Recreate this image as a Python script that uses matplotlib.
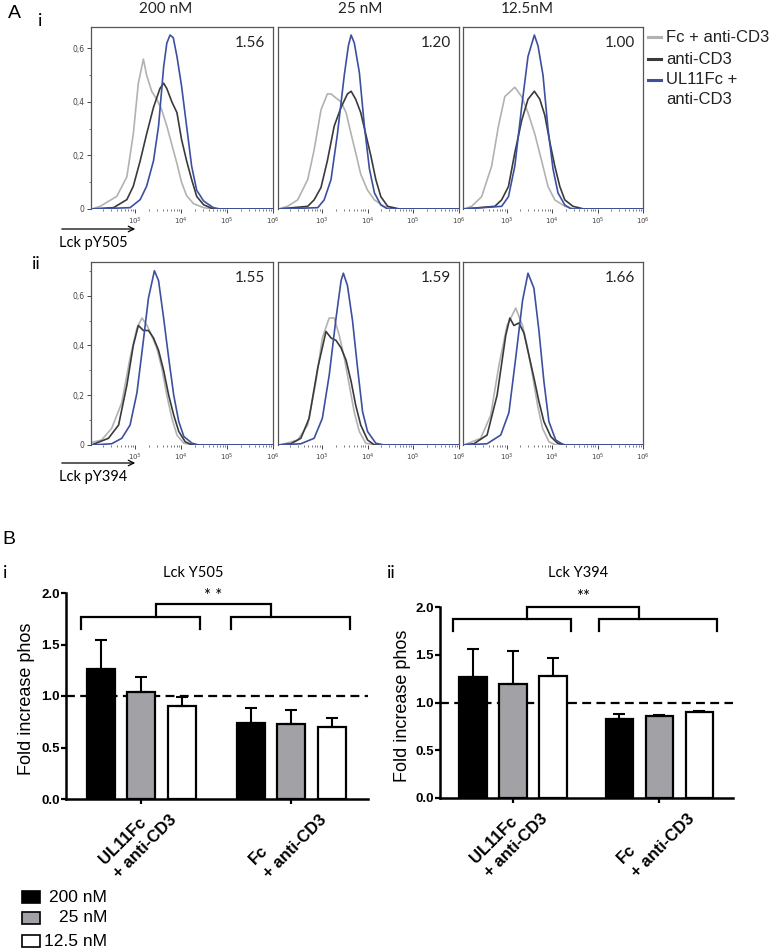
import matplotlib
matplotlib.use('Agg')
import matplotlib.pyplot as plt
from matplotlib.lines import Line2D
from matplotlib.patches import Rectangle, FancyArrowPatch
import matplotlib.transforms as mtransforms
import numpy as np

# ---------------- DATA ----------------
# Flow histograms: x = log10(fluorescence), y = normalised count
# Row i (Lck pY505)
i200_fc_x = [2.05, 2.24, 2.53, 2.60, 2.82, 2.96, 3.07, 3.18, 3.25, 3.36, 3.47, 3.58, 3.69, 3.80, 3.91, 4.01, 4.12, 4.27, 4.49, 4.70, 6.0]
i200_fc_y = [0.0, 0.01, 0.04, 0.047, 0.12, 0.28, 0.47, 0.56, 0.50, 0.44, 0.41, 0.37, 0.31, 0.24, 0.17, 0.10, 0.05, 0.02, 0.005, 0.0, 0.0]
i200_cd3_x = [2.05, 2.53, 2.82, 2.96, 3.11, 3.25, 3.40, 3.54, 3.62, 3.69, 3.80, 3.91, 4.01, 4.12, 4.23, 4.34, 4.49, 4.70, 6.0]
i200_cd3_y = [0.0, 0.005, 0.035, 0.085, 0.18, 0.28, 0.38, 0.45, 0.47, 0.45, 0.40, 0.36, 0.26, 0.18, 0.11, 0.047, 0.016, 0.0, 0.0]
i200_ul_x = [2.05, 2.89, 3.11, 3.25, 3.40, 3.51, 3.62, 3.69, 3.76, 3.83, 3.91, 4.01, 4.12, 4.23, 4.34, 4.49, 4.70, 4.85, 6.0]
i200_ul_y = [0.0, 0.005, 0.035, 0.085, 0.18, 0.31, 0.53, 0.62, 0.65, 0.64, 0.57, 0.46, 0.31, 0.16, 0.07, 0.03, 0.005, 0.0, 0.0]

i25_fc_x = [2.05, 2.25, 2.47, 2.69, 2.83, 2.98, 3.12, 3.20, 3.27, 3.42, 3.53, 3.64, 3.74, 3.85, 4.00, 4.15, 4.36, 4.60, 6.0]
i25_fc_y = [0.0, 0.01, 0.034, 0.11, 0.22, 0.37, 0.43, 0.43, 0.42, 0.40, 0.36, 0.28, 0.21, 0.13, 0.07, 0.034, 0.01, 0.0, 0.0]
i25_cd3_x = [2.05, 2.69, 2.83, 2.98, 3.12, 3.27, 3.42, 3.56, 3.64, 3.74, 3.85, 3.96, 4.07, 4.18, 4.29, 4.44, 4.70, 6.0]
i25_cd3_y = [0.0, 0.01, 0.034, 0.08, 0.18, 0.31, 0.38, 0.43, 0.44, 0.41, 0.36, 0.28, 0.20, 0.11, 0.046, 0.01, 0.0, 0.0]
i25_ul_x = [2.05, 2.91, 3.05, 3.20, 3.34, 3.49, 3.58, 3.64, 3.71, 3.82, 3.93, 4.04, 4.15, 4.29, 4.44, 6.0]
i25_ul_y = [0.0, 0.005, 0.034, 0.11, 0.28, 0.50, 0.61, 0.65, 0.62, 0.51, 0.31, 0.15, 0.06, 0.015, 0.0, 0.0]

i12_fc_x = [2.05, 2.23, 2.45, 2.67, 2.82, 2.96, 3.18, 3.33, 3.47, 3.62, 3.77, 3.91, 4.06, 4.28, 4.50, 6.0]
i12_fc_y = [0.0, 0.01, 0.046, 0.16, 0.31, 0.42, 0.455, 0.42, 0.36, 0.28, 0.18, 0.084, 0.034, 0.01, 0.0, 0.0]
i12_cd3_x = [2.05, 2.74, 2.89, 3.04, 3.18, 3.33, 3.47, 3.61, 3.73, 3.84, 3.95, 4.06, 4.17, 4.28, 4.46, 4.70, 6.0]
i12_cd3_y = [0.0, 0.01, 0.034, 0.084, 0.21, 0.33, 0.41, 0.44, 0.41, 0.35, 0.25, 0.16, 0.084, 0.034, 0.01, 0.0, 0.0]
i12_ul_x = [2.05, 2.89, 3.04, 3.18, 3.33, 3.47, 3.61, 3.69, 3.80, 3.91, 4.02, 4.13, 4.28, 4.42, 6.0]
i12_ul_y = [0.0, 0.01, 0.046, 0.16, 0.38, 0.57, 0.65, 0.61, 0.50, 0.30, 0.15, 0.06, 0.015, 0.0, 0.0]

# Row ii (Lck pY394)
ii200_fc_x = [2.05, 2.27, 2.49, 2.71, 2.89, 3.04, 3.15, 3.26, 3.36, 3.47, 3.58, 3.69, 3.80, 3.91, 4.06, 4.30, 6.0]
ii200_fc_y = [0.01, 0.02, 0.067, 0.17, 0.35, 0.47, 0.51, 0.48, 0.44, 0.39, 0.31, 0.20, 0.107, 0.04, 0.007, 0.0, 0.0]
ii200_cd3_x = [2.05, 2.12, 2.42, 2.64, 2.82, 2.96, 3.07, 3.18, 3.29, 3.40, 3.51, 3.62, 3.73, 3.84, 3.95, 4.09, 4.24, 6.0]
ii200_cd3_y = [0.0, 0.005, 0.027, 0.08, 0.24, 0.40, 0.48, 0.46, 0.46, 0.43, 0.38, 0.30, 0.20, 0.12, 0.054, 0.013, 0.0, 0.0]
ii200_ul_x = [2.05, 2.49, 2.71, 2.89, 3.04, 3.18, 3.29, 3.42, 3.51, 3.62, 3.73, 3.84, 3.95, 4.06, 4.24, 4.39, 6.0]
ii200_ul_y = [0.0, 0.005, 0.027, 0.08, 0.21, 0.42, 0.59, 0.70, 0.66, 0.51, 0.35, 0.20, 0.094, 0.034, 0.007, 0.0, 0.0]

ii25_fc_x = [2.05, 2.18, 2.47, 2.69, 2.87, 3.01, 3.16, 3.27, 3.38, 3.49, 3.60, 3.71, 3.82, 3.96, 4.20, 6.0]
ii25_fc_y = [0.0, 0.005, 0.02, 0.08, 0.255, 0.43, 0.51, 0.51, 0.44, 0.35, 0.24, 0.13, 0.054, 0.007, 0.0, 0.0]
ii25_cd3_x = [2.05, 2.32, 2.54, 2.72, 2.91, 3.09, 3.20, 3.31, 3.42, 3.53, 3.64, 3.74, 3.85, 4.00, 4.15, 6.0]
ii25_cd3_y = [0.0, 0.005, 0.027, 0.107, 0.31, 0.456, 0.43, 0.42, 0.39, 0.34, 0.255, 0.16, 0.08, 0.02, 0.0, 0.0]
ii25_ul_x = [2.05, 2.54, 2.83, 3.01, 3.16, 3.31, 3.42, 3.47, 3.56, 3.67, 3.78, 3.89, 4.00, 4.18, 4.36, 6.0]
ii25_ul_y = [0.0, 0.005, 0.027, 0.107, 0.28, 0.51, 0.66, 0.69, 0.64, 0.50, 0.31, 0.134, 0.054, 0.007, 0.0, 0.0]

ii12_fc_x = [2.05, 2.13, 2.43, 2.65, 2.83, 3.01, 3.20, 3.35, 3.46, 3.57, 3.68, 3.79, 3.93, 4.08, 6.0]
ii12_fc_y = [0.0, 0.005, 0.027, 0.12, 0.32, 0.48, 0.55, 0.48, 0.39, 0.28, 0.16, 0.067, 0.013, 0.0, 0.0]
ii12_cd3_x = [2.05, 2.28, 2.57, 2.79, 2.98, 3.07, 3.16, 3.27, 3.38, 3.49, 3.60, 3.71, 3.82, 3.97, 4.12, 4.30, 6.0]
ii12_cd3_y = [0.0, 0.005, 0.04, 0.20, 0.44, 0.51, 0.48, 0.49, 0.45, 0.36, 0.27, 0.175, 0.094, 0.034, 0.007, 0.0, 0.0]
ii12_ul_x = [2.05, 2.57, 2.87, 3.05, 3.20, 3.35, 3.47, 3.60, 3.71, 3.82, 3.93, 4.08, 4.26, 6.0]
ii12_ul_y = [0.0, 0.005, 0.04, 0.13, 0.35, 0.58, 0.69, 0.63, 0.46, 0.255, 0.094, 0.02, 0.0, 0.0]

# fold change labels in each histogram panel
row_i_fold = ['1.56', '1.20', '1.00']
row_ii_fold = ['1.55', '1.59', '1.66']
conc_titles = ['200 nM', '25 nM', '12.5nM']
hist_legend = ['Fc + anti-CD3', 'anti-CD3', 'UL11Fc +\nanti-CD3']
hist_xticklabels = [r'$10^3$', r'$10^4$', r'$10^5$', r'$10^6$']
hist_yticklabels = ['0', '0,2', '0,4', '0,6']

# Bar charts (order: UL11Fc 200, 25, 12.5 ; Fc 200, 25, 12.5)
groups = ['UL11Fc\n+ anti-CD3', 'Fc\n+ anti-CD3']
conc_labels = ['200 nM', '25 nM', '12.5 nM']
y505_mean = [1.26, 1.04, 0.90, 0.735, 0.725, 0.70]
y505_err = [0.28, 0.14, 0.09, 0.145, 0.135, 0.09]
y394_mean = [1.27, 1.19, 1.28, 0.826, 0.857, 0.90]
y394_err = [0.29, 0.35, 0.19, 0.052, 0.014, 0.009]

# ---------------- FIGURE ----------------
W, H = 774, 951
fig = plt.figure(figsize=(W / 100, H / 100), dpi=100)

CAL = 'Lato'
ARIAL = 'Liberation Sans'


def px_axes(l, t, r, b):
    return fig.add_axes([l / W, 1 - b / H, (r - l) / W, (b - t) / H])


def ftext(x, y, s, **kw):
    return fig.text(x / W, 1 - y / H, s, **kw)


GRAY = '#b2b2b2'
DARK = '#3a3a3a'
BLUE = '#3d4f9f'
FRAME = '#555555'


def hist_panel(l, t, r, b, ymax, curves, fold, show_y):
    ax = px_axes(l, t, r, b)
    for (x, y, c) in curves:
        ax.plot(x, y, color=c, lw=1.2, solid_joinstyle='round')
    ax.set_xlim(2.04, 6.0)
    ax.set_ylim(0, ymax)
    ax.spines['bottom'].set_visible(False)
    for s in ['left', 'top', 'right']:
        ax.spines[s].set_color(FRAME)
        ax.spines[s].set_linewidth(0.9)
    ax.set_xticks([3, 4, 5, 6])
    ax.set_xticklabels(hist_xticklabels)
    minor = [d + np.log10(k) for d in range(2, 6) for k in range(2, 10)]
    minor = [m for m in minor if m > 2.1]
    ax.set_xticks(minor, minor=True)
    ax.tick_params(axis='x', which='major', length=3, width=0.7, pad=1.5,
                   labelsize=5, colors='#444444')
    ax.tick_params(axis='x', which='minor', length=1.6, width=0.5, colors='#444444')
    if show_y:
        ax.set_yticks([0, 0.2, 0.4, 0.6])
        ax.set_yticklabels(hist_yticklabels)
        ax.set_yticks([0.1, 0.3, 0.5] + ([0.7] if ymax > 0.7 else []), minor=True)
        ax.tick_params(axis='y', which='major', length=3, width=0.7, pad=1.5,
                       labelsize=5.5, colors='#444444')
        ax.tick_params(axis='y', which='minor', length=1.6, width=0.5, colors='#444444')
    else:
        ax.set_yticks([])
    ax.text(1 - 8 / (r - l), 1 - 16 / (b - t), fold, transform=ax.transAxes,
            ha='right', va='center', fontsize=11, family=CAL, color='#222222')
    return ax


cols_x = [(91, 273), (278, 459), (463, 643)]
row_i_curves = [
    [(i200_fc_x, i200_fc_y, GRAY), (i200_cd3_x, i200_cd3_y, DARK), (i200_ul_x, i200_ul_y, BLUE)],
    [(i25_fc_x, i25_fc_y, GRAY), (i25_cd3_x, i25_cd3_y, DARK), (i25_ul_x, i25_ul_y, BLUE)],
    [(i12_fc_x, i12_fc_y, GRAY), (i12_cd3_x, i12_cd3_y, DARK), (i12_ul_x, i12_ul_y, BLUE)],
]
row_ii_curves = [
    [(ii200_fc_x, ii200_fc_y, GRAY), (ii200_cd3_x, ii200_cd3_y, DARK), (ii200_ul_x, ii200_ul_y, BLUE)],
    [(ii25_fc_x, ii25_fc_y, GRAY), (ii25_cd3_x, ii25_cd3_y, DARK), (ii25_ul_x, ii25_ul_y, BLUE)],
    [(ii12_fc_x, ii12_fc_y, GRAY), (ii12_cd3_x, ii12_cd3_y, DARK), (ii12_ul_x, ii12_ul_y, BLUE)],
]
for k, (l, r) in enumerate(cols_x):
    hist_panel(l, 27, r, 209, 0.68, row_i_curves[k], row_i_fold[k], k == 0)
    hist_panel(l, 262, r, 445, 0.735, row_ii_curves[k], row_ii_fold[k], k == 0)

# column titles
for x, s in zip([166, 360, 527], conc_titles):
    ftext(x, 9, s, ha='center', va='center', fontsize=11, family=CAL, color='#222222')

ftext(14, 14, 'A', ha='center', va='center', fontsize=14, family=ARIAL)
ftext(40, 21, 'i', ha='center', va='center', fontsize=13, family=CAL)
ftext(36, 264, 'ii', ha='center', va='center', fontsize=13, family=CAL)

# axis arrows below the first column
for ya, yt, lab in [(229, 243, 'Lck pY505'), (463, 477, 'Lck pY394')]:
    fig.add_artist(FancyArrowPatch(
        (59 / W, 1 - ya / H), (138 / W, 1 - ya / H), transform=fig.transFigure,
        arrowstyle='->', mutation_scale=10, lw=0.9, color='black'))
    ftext(59, yt, lab, ha='left', va='center', fontsize=10.5, family=CAL)

# top-right legend
for y, lab, c in zip([37, 59, 80], hist_legend, [GRAY, DARK, BLUE]):
    fig.add_artist(Line2D([648 / W, 661 / W], [1 - y / H, 1 - y / H], color=c, lw=2.2,
                          transform=fig.transFigure))
    lines = lab.split('\n')
    for j, ln in enumerate(lines):
        ftext(666, y + 20 * j, ln, ha='left', va='center', fontsize=12, family=ARIAL,
              color='#222222')

# ---------------- B: bar charts ----------------
BAR_COLORS = ['black', '#a2a2a6', 'white'] * 2
ftext(9, 539, 'B', ha='center', va='center', fontsize=14, family=ARIAL)


def bar_panel(l, t, r, b, means, errs, xlim, gap, title, tx, roman, rx,
              br_y, br_leg, top_y, stars, star_y, ylab_x):
    ax = px_axes(l, t, r, b)
    pos = np.array([0, 1, 2, 2 + gap, 3 + gap, 4 + gap])
    ax.axhline(1.0, color='black', lw=1.6, ls=(0, (4, 2.4)), zorder=1)
    ax.bar(pos, means, width=0.69, color=BAR_COLORS, edgecolor='black',
           linewidth=1.6, zorder=2)
    ax.errorbar(pos, means, yerr=[np.zeros(len(errs)), errs], fmt='none',
                ecolor='black', elinewidth=1.5, capsize=4.5, capthick=1.5, zorder=3)
    ax.set_xlim(*xlim)
    ax.set_ylim(0, 2.0)
    for s in ['top', 'right']:
        ax.spines[s].set_visible(False)
    for s in ['left', 'bottom']:
        ax.spines[s].set_linewidth(1.8)
    ax.tick_params(axis='both', length=3.6, width=1.6, pad=1)
    ax.set_yticks([0, 0.5, 1.0, 1.5, 2.0])
    ax.set_yticklabels(['0.0', '0.5', '1.0', '1.5', '2.0'],
                       fontsize=9.5, fontweight='bold', family=ARIAL)
    ax.set_xticks([pos[1], pos[4]])
    ax.set_xticklabels(groups, rotation=45, ha='right', va='top',
                       rotation_mode='anchor', multialignment='left',
                       linespacing=1.4,
                       fontsize=12, fontweight='bold', family=ARIAL)
    offset = mtransforms.ScaledTranslation(13 / 100, 7 / 100, fig.dpi_scale_trans)
    for lab in ax.get_xticklabels():
        lab.set_transform(lab.get_transform() + offset)
    # significance brackets
    kw = dict(color='black', lw=1.6, clip_on=False, solid_joinstyle='miter')
    for lo, hi in [(pos[0] - 0.5, pos[2] + 0.45), (pos[3] - 0.5, pos[5] + 0.45)]:
        ax.plot([lo, lo, hi, hi], [br_leg, br_y, br_y, br_leg], **kw)
    tl, tr = pos[1] + 0.35, pos[4] - 0.5
    ax.plot([tl, tl, tr, tr], [br_y, top_y, top_y, br_y], **kw)
    ax.text((tl + tr) / 2, star_y, stars, ha='center', va='center', fontsize=12,
            family=CAL, clip_on=False)
    ftext(tx, 573, title, ha='center', va='center', fontsize=10.5, family=CAL)
    ftext(rx, 573, roman, ha='center', va='center', fontsize=13, family=CAL)
    ftext(ylab_x, (t + b) / 2 + 3, 'Fold increase phos', rotation=90, ha='center',
          va='center', fontsize=13, family=ARIAL)
    return ax


bar_panel(66, 593, 368, 799, y505_mean, y505_err, (-0.86, 6.59), 1.70,
          'Lck Y505', 193, 'i', 5, 1.77, 1.65, 1.89, '* *', 1.97, 27)
bar_panel(440, 607, 733, 798, y394_mean, y394_err, (-0.83, 6.5), 1.66,
          'Lck Y394', 578, 'ii', 391, 1.875, 1.75, 2.0, '**', 2.10, 403)

# bottom legend
for y, lab, c in zip([897, 918, 941], conc_labels, BAR_COLORS[:3]):
    fig.add_artist(Rectangle((22 / W, 1 - (y + 6) / H), 18 / W, 12 / H, facecolor=c,
                             edgecolor='black', lw=1.2, transform=fig.transFigure))
    ftext(107, y, lab, ha='right', va='center', fontsize=12.5, family=ARIAL)

fig.savefig('out.png', dpi=100)
